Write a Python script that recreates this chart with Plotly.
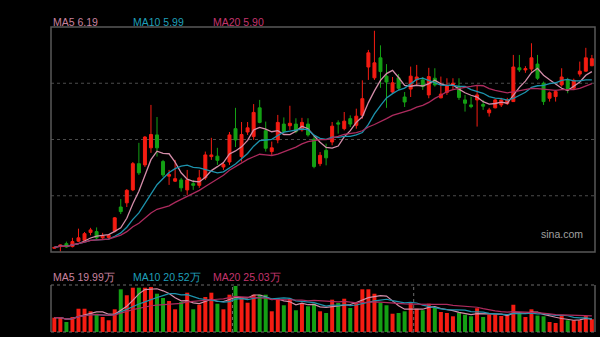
import pandas as pd
import plotly.graph_objects as go

# Daily K-line (price in CNY, volume in 万 shares)
opens = [1.95, 1.99, 2.06, 1.99, 2.12, 2.14, 2.33, 2.35, 2.20, 2.21,
         2.36, 2.94, 3.04, 3.35, 3.98, 3.95, 4.36, 4.67, 4.03, 3.68,
         3.56, 3.59, 3.35, 3.50, 3.46, 3.64, 4.15, 4.16, 3.90, 4.02,
         4.82, 4.15, 4.74, 4.63, 5.32, 4.77, 4.27, 4.55, 4.93, 4.89,
         4.93, 4.79, 4.93, 4.57, 3.98, 4.30, 4.50, 4.96, 4.82, 5.06,
         4.90, 5.14, 6.30, 6.04, 6.52, 6.08, 5.70, 6.04, 5.58, 5.77,
         5.99, 5.99, 5.63, 6.03, 5.56, 5.69, 5.87, 5.83, 5.51, 5.39,
         5.51, 5.40, 5.20, 5.32, 5.39, 5.42, 5.47, 6.28, 6.23, 6.25,
         6.37, 5.91, 5.55, 5.59, 5.87, 5.99, 5.79, 6.13, 6.20, 6.33]
highs = [1.98, 2.04, 2.11, 2.20, 2.42, 2.34, 2.44, 2.45, 2.32, 2.29,
         2.70, 3.13, 3.37, 4.02, 4.48, 4.64, 5.39, 5.10, 4.07, 3.83,
         4.07, 3.64, 3.83, 3.59, 3.83, 4.27, 4.60, 4.36, 4.02, 4.74,
         5.32, 4.98, 4.98, 5.41, 5.51, 4.99, 4.51, 5.15, 5.09, 5.37,
         5.07, 5.08, 5.07, 4.67, 4.26, 4.46, 4.98, 5.02, 5.22, 5.14,
         5.30, 5.98, 6.71, 7.17, 6.82, 6.37, 6.06, 6.13, 5.70, 6.31,
         6.35, 6.06, 6.28, 6.27, 6.07, 6.03, 6.03, 6.03, 5.63, 5.59,
         5.87, 5.51, 5.32, 5.53, 5.56, 5.56, 6.59, 6.59, 6.32, 6.87,
         6.59, 5.95, 5.71, 5.75, 6.27, 6.04, 6.02, 6.43, 6.76, 6.59]
lows = [1.94, 1.87, 1.96, 1.97, 2.10, 2.11, 2.26, 2.17, 2.15, 2.18,
        2.33, 2.77, 2.94, 3.32, 3.71, 3.90, 4.24, 4.15, 3.66, 3.47,
        3.54, 3.31, 3.23, 3.35, 3.40, 3.59, 4.07, 3.95, 3.83, 3.95,
        4.38, 4.03, 4.67, 4.55, 4.95, 4.27, 4.19, 4.47, 4.72, 4.79,
        4.71, 4.75, 4.63, 3.87, 3.92, 3.94, 4.42, 4.70, 4.78, 4.86,
        4.82, 5.06, 5.99, 5.99, 5.80, 5.32, 5.66, 5.75, 5.34, 5.58,
        5.87, 5.75, 5.55, 5.83, 5.55, 5.63, 5.75, 5.51, 5.23, 5.31,
        4.87, 5.27, 5.11, 5.31, 5.34, 5.39, 5.46, 6.18, 6.16, 6.19,
        5.99, 5.39, 5.47, 5.47, 5.83, 5.67, 5.77, 6.07, 6.19, 6.32]
closes = [1.97, 2.03, 1.98, 2.11, 2.20, 2.30, 2.39, 2.20, 2.24, 2.26,
          2.68, 2.83, 3.34, 3.98, 3.76, 4.62, 4.68, 4.36, 3.71, 3.72,
          3.62, 3.40, 3.59, 3.46, 3.64, 4.19, 4.19, 4.06, 3.96, 4.67,
          4.55, 4.68, 4.84, 5.21, 4.97, 4.35, 4.36, 4.97, 4.75, 4.95,
          4.75, 4.97, 4.67, 3.91, 4.18, 4.12, 4.88, 4.93, 5.00, 4.93,
          5.12, 5.54, 6.64, 6.40, 6.19, 5.94, 5.92, 5.79, 5.46, 6.08,
          6.06, 5.83, 6.07, 5.87, 5.65, 5.85, 5.91, 5.57, 5.43, 5.35,
          5.63, 5.36, 5.27, 5.51, 5.51, 5.51, 6.30, 6.23, 6.26, 6.52,
          6.03, 5.47, 5.68, 5.71, 6.06, 5.75, 5.98, 6.20, 6.52, 6.50]
volumes = [22.3, 22.3, 15.6, 23.4, 36.3, 36.3, 32.3, 28.5, 23.4, 18.3,
           35.4, 66.6, 57.3, 69.1, 69.1, 69.1, 70.2, 59.7, 53.0, 48.4,
           35.4, 46.8, 61.3, 35.4, 42.6, 54.6, 61.3, 44.1, 35.4, 58.2,
           71.8, 54.6, 45.7, 58.2, 58.2, 58.2, 32.3, 51.9, 41.7, 51.9,
           33.9, 45.2, 40.1, 44.1, 32.3, 29.6, 50.4, 45.2, 51.9, 37.4,
           45.2, 66.6, 66.6, 59.7, 45.7, 41.7, 28.5, 29.6, 32.3, 45.7,
           36.3, 33.9, 44.1, 37.4, 31.2, 29.6, 24.5, 30.1, 27.0, 24.5,
           37.1, 23.4, 27.0, 27.0, 25.0, 26.1, 42.5, 28.5, 23.4, 35.4,
           25.65, 24.5, 15.6, 14.0, 25.5, 18.3, 18.3, 18.3, 25.1, 19.95]
# candle indexes where a new month begins
month_starts = [30, 60]
ma_periods = [5, 10, 20]

RED = "#f51c12"
GREEN = "#14a014"
MA_LINE = {5: "#d48da9", 10: "#1d93ad", 20: "#ad2b5e"}
MA_TEXT = {5: "#c9819f", 10: "#1f9fb9", 20: "#c4346d"}
FONT = "Liberation Sans, Arial, sans-serif"

idx = list(range(len(closes)))
close_s = pd.Series(closes)
vol_s = pd.Series(volumes)
price_ma = {n: close_s.rolling(n, min_periods=1).mean() for n in ma_periods}
vol_ma = {n: vol_s.rolling(n, min_periods=1).mean() for n in ma_periods}

fig = go.Figure()

fig.add_trace(go.Candlestick(
    x=idx, open=opens, high=highs, low=lows, close=closes,
    increasing=dict(line=dict(color=RED, width=1), fillcolor=RED),
    decreasing=dict(line=dict(color=GREEN, width=1), fillcolor=GREEN),
    whiskerwidth=0, showlegend=False, hoverinfo="skip",
    xaxis="x", yaxis="y"))

for n in ma_periods:
    fig.add_trace(go.Scatter(
        x=idx, y=price_ma[n], mode="lines",
        line=dict(color=MA_LINE[n], width=1.3),
        showlegend=False, hoverinfo="skip", xaxis="x", yaxis="y"))

bar_colors = [RED if c >= o else GREEN for o, c in zip(opens, closes)]
fig.add_trace(go.Bar(
    x=idx, y=volumes, marker=dict(color=bar_colors, line=dict(width=0)),
    width=0.66, showlegend=False, hoverinfo="skip",
    xaxis="x2", yaxis="y2"))

for n in ma_periods:
    fig.add_trace(go.Scatter(
        x=idx, y=vol_ma[n], mode="lines",
        line=dict(color=MA_LINE[n], width=1.2),
        showlegend=False, hoverinfo="skip", xaxis="x2", yaxis="y2"))

W, H = 600, 337
x_dom = [51 / W, 595 / W]
y_main = [(H - 252) / H, (H - 27) / H]
y_vol = [(H - 332) / H, (H - 285) / H]
x_range = [-0.55, 89.52]

shapes = []
BORDER = "#585858"
GRID = "#4c4c4c"
# main panel frame and dotted quarter lines
shapes.append(dict(type="rect", xref="x domain", yref="y domain",
                   x0=0, x1=1, y0=0, y1=1, line=dict(color=BORDER, width=1.5)))
for q in (0.25, 0.5, 0.75):
    shapes.append(dict(type="line", xref="x domain", yref="y domain",
                       x0=0, x1=1, y0=q, y1=q, layer="below",
                       line=dict(color=GRID, width=1, dash="dot")))
# volume panel frame
for xx in (0, 1):
    shapes.append(dict(type="line", xref="x2 domain", yref="y2 domain",
                       x0=xx, x1=xx, y0=0, y1=1,
                       line=dict(color=BORDER, width=1.5)))
for yy in (0, 1):
    shapes.append(dict(type="line", xref="x2 domain", yref="y2 domain",
                       x0=0, x1=1, y0=yy, y1=yy,
                       line=dict(color="#6a6a6a", width=1, dash="dot")))
for m in month_starts:
    shapes.append(dict(type="line", xref="x2", yref="y2 domain",
                       x0=m - 0.5, x1=m - 0.5, y0=0, y1=1, layer="below",
                       line=dict(color="#6a6a6a", width=1, dash="dot")))

annotations = []
label_x = [51, 131, 211]
for n, lx in zip(ma_periods, label_x):
    annotations.append(dict(
        text=f"MA{n} {price_ma[n].iloc[-1]:.2f}", xref="paper", yref="paper",
        x=lx / W, y=(H - 21.5) / H, xanchor="left", yanchor="middle",
        showarrow=False, font=dict(family=FONT, size=10.5, color=MA_TEXT[n])))
    annotations.append(dict(
        text=f"MA{n} {vol_ma[n].iloc[-1]:.2f}万", xref="paper", yref="paper",
        x=lx / W, y=(H - 276.5) / H, xanchor="left", yanchor="middle",
        showarrow=False, font=dict(family=FONT, size=10.5, color=MA_TEXT[n])))
annotations.append(dict(
    text="sina.com", xref="paper", yref="paper", x=585 / W, y=(H - 233.5) / H,
    xanchor="right", yanchor="middle", showarrow=False,
    font=dict(family=FONT, size=10.5, color="#a0a0a0")))

fig.update_layout(
    width=W, height=H,
    margin=dict(l=0, r=0, t=0, b=0),
    paper_bgcolor="#000000", plot_bgcolor="#000000",
    xaxis=dict(domain=x_dom, range=x_range, visible=False,
               rangeslider=dict(visible=False), anchor="y"),
    xaxis2=dict(domain=x_dom, range=x_range, visible=False, anchor="y2",
                matches="x"),
    yaxis=dict(domain=y_main, range=[1.86, 7.26], visible=False, anchor="x"),
    yaxis2=dict(domain=y_vol, range=[0, 73.3], visible=False, anchor="x2"),
    shapes=shapes, annotations=annotations,
    bargap=0.34, showlegend=False,
)

fig.write_html("out.html")
